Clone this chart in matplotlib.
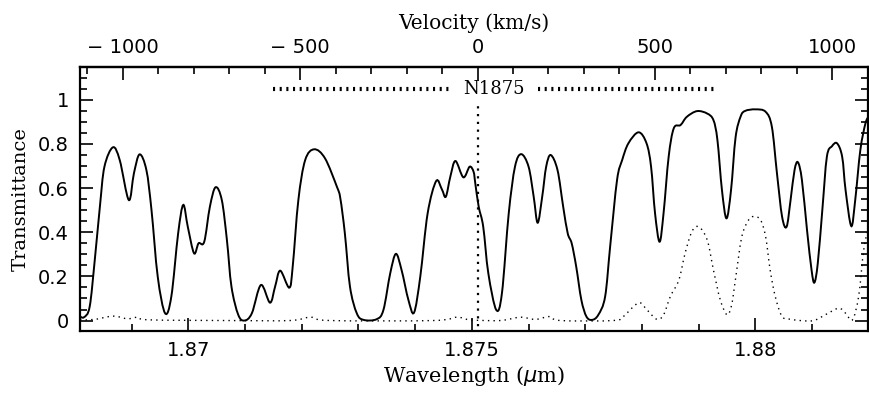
import matplotlib
matplotlib.use('Agg')
import matplotlib.pyplot as plt
import matplotlib.ticker as ticker
from matplotlib.path import Path
from matplotlib.patches import PathPatch
import numpy as np

C_KMS = 299792.458
LAM0 = 1.8751  # N1875 line centre (um)

# solid curve: atmospheric transmittance
wave = [1.86808, 1.86816, 1.86826, 1.86835, 1.86844, 1.86852, 1.86867, 1.86879,
        1.86895, 1.86904, 1.86914, 1.86926, 1.86935, 1.86946, 1.86959, 1.86970,
        1.86982, 1.86991, 1.86999, 1.87010, 1.87018, 1.87028, 1.87038, 1.87048,
        1.87059, 1.87068, 1.87076, 1.87088, 1.87099, 1.87112, 1.87128, 1.87144,
        1.87153, 1.87162, 1.87178, 1.87184, 1.87194, 1.87206, 1.87222, 1.87241,
        1.87262, 1.87268, 1.87276, 1.87285, 1.87297, 1.87309, 1.87332, 1.87344,
        1.87356, 1.87366, 1.87376, 1.87388, 1.87398, 1.87409, 1.87422, 1.87437,
        1.87447, 1.87454, 1.87462, 1.87471, 1.87485, 1.87496, 1.87503, 1.87506,
        1.87512, 1.87520, 1.87529, 1.87543, 1.87553, 1.87565, 1.87576, 1.87587,
        1.87600, 1.87609, 1.87616, 1.87624, 1.87631, 1.87639, 1.87651, 1.87661,
        1.87669, 1.87676, 1.87684, 1.87693, 1.87702, 1.87712, 1.87723, 1.87735,
        1.87744, 1.87756, 1.87765, 1.87776, 1.87794, 1.87808, 1.87816, 1.87823,
        1.87831, 1.87838, 1.87847, 1.87856, 1.87868, 1.87879, 1.87897, 1.87915,
        1.87926, 1.87933, 1.87941, 1.87949, 1.87957, 1.87965, 1.87974, 1.87982,
        1.88000, 1.88018, 1.88029, 1.88038, 1.88047, 1.88055, 1.88062, 1.88069,
        1.88075, 1.88082, 1.88091, 1.88099, 1.88104, 1.88110, 1.88118, 1.88126,
        1.88135, 1.88144, 1.88153, 1.88159, 1.88169, 1.88176, 1.88185, 1.88194,
        1.88200]
trans = [0.020, 0.015, 0.063, 0.275, 0.516, 0.697, 0.785, 0.727,
         0.546, 0.667, 0.753, 0.682, 0.501, 0.199, 0.033, 0.109,
         0.395, 0.524, 0.425, 0.305, 0.350, 0.357, 0.516, 0.604,
         0.546, 0.365, 0.154, 0.026, 0.000, 0.033, 0.161, 0.081,
         0.154, 0.226, 0.149, 0.244, 0.546, 0.727, 0.776, 0.735,
         0.606, 0.554, 0.395, 0.154, 0.033, 0.003, 0.006, 0.048,
         0.214, 0.302, 0.229, 0.094, 0.036, 0.199, 0.486, 0.632,
         0.595, 0.561, 0.652, 0.723, 0.649, 0.697, 0.674, 0.622,
         0.516, 0.425, 0.214, 0.048, 0.124, 0.486, 0.697, 0.754,
         0.697, 0.561, 0.443, 0.561, 0.697, 0.750, 0.682, 0.516,
         0.395, 0.350, 0.244, 0.094, 0.018, 0.003, 0.026, 0.109,
         0.340, 0.637, 0.727, 0.803, 0.853, 0.803, 0.697, 0.486,
         0.357, 0.486, 0.742, 0.871, 0.886, 0.923, 0.949, 0.938,
         0.908, 0.818, 0.591, 0.463, 0.591, 0.830, 0.925, 0.950,
         0.957, 0.946, 0.878, 0.667, 0.471, 0.425, 0.546, 0.682,
         0.717, 0.637, 0.410, 0.229, 0.172, 0.260, 0.501, 0.742,
         0.790, 0.803, 0.742, 0.591, 0.428, 0.546, 0.772, 0.893,
         0.926]

# dotted curve: filter profile
wave_f = [1.86809, 1.86835, 1.86867, 1.86893, 1.86911, 1.86932, 1.87073, 1.87179,
          1.87215, 1.87250, 1.87432, 1.87474, 1.87497, 1.87550, 1.87585, 1.87612,
          1.87637, 1.87656, 1.87749, 1.87767, 1.87782, 1.87796, 1.87809, 1.87826,
          1.87838, 1.87850, 1.87865, 1.87876, 1.87888, 1.87900, 1.87915, 1.87926,
          1.87938, 1.87950, 1.87958, 1.87965, 1.87976, 1.87988, 1.87997, 1.88009,
          1.88018, 1.88026, 1.88035, 1.88047, 1.88062, 1.88079, 1.88103, 1.88126,
          1.88147, 1.88159, 1.88171, 1.88182, 1.88191, 1.88200]
trans_f = [0.003, 0.005, 0.020, 0.008, 0.015, 0.003, 0.000, 0.000,
           0.015, 0.000, 0.000, 0.015, 0.003, 0.000, 0.015, 0.005,
           0.018, 0.000, 0.000, 0.018, 0.056, 0.081, 0.048, 0.006,
           0.026, 0.109, 0.184, 0.305, 0.403, 0.425, 0.365, 0.229,
           0.094, 0.026, 0.070, 0.190, 0.380, 0.456, 0.471, 0.456,
           0.380, 0.229, 0.109, 0.018, 0.006, 0.000, 0.000, 0.030,
           0.056, 0.033, 0.003, 0.109, 0.320, 0.430]

# line marker bars (wavelength ranges)
bar_left = [1.87149, 1.87467]
bar_right = [1.87617, 1.87928]
bar_y = 1.048
line_label = 'N1875'
vel_ticks = [-1000, -500, 0, 500, 1000]


def lam2vel(lam):
    return (np.asarray(lam) - LAM0) / LAM0 * C_KMS


def vel2lam(v):
    return LAM0 * (1 + np.asarray(v) / C_KMS)


def smooth_path(x, y):
    # Catmull-Rom through the read points, drawn as cubic Bezier segments
    p = np.column_stack([x, y])
    verts = [p[0]]
    codes = [Path.MOVETO]
    n = len(p)
    for i in range(n - 1):
        p0 = p[max(i - 1, 0)]
        p1 = p[i]
        p2 = p[i + 1]
        p3 = p[min(i + 2, n - 1)]
        verts += [p1 + (p2 - p0) / 6.0, p2 - (p3 - p1) / 6.0, p2]
        codes += [Path.CURVE4] * 3
    return Path(verts, codes)


plt.rcParams['font.family'] = 'DejaVu Sans'

fig = plt.figure(figsize=(8.7, 3.93), dpi=100)
ax = fig.add_axes([0.092, 0.158, 0.906, 0.671])

ax.add_patch(PathPatch(smooth_path(wave, trans), facecolor='none',
                       edgecolor='k', linewidth=1.4))
ax.add_patch(PathPatch(smooth_path(wave_f, trans_f), facecolor='none',
                       edgecolor='k', linestyle=(0, (1, 3)), linewidth=1.0))
ax.plot([LAM0, LAM0], [-0.06, 0.985], color='k', linestyle=(0, (1, 2.5)), linewidth=1.6)

for seg in (bar_left, bar_right):
    ax.plot(seg, [bar_y, bar_y], color='k', linewidth=3.0,
            linestyle=(0, (0.5, 1.1)), solid_capstyle='butt', dash_capstyle='butt')
ax.text(1.87539, bar_y, line_label, ha='center', va='center', fontsize=13,
        family='DejaVu Serif')

ax.set_xlim(1.86809, 1.88199)
ax.set_ylim(-0.047, 1.148)

ax.xaxis.set_major_locator(ticker.MultipleLocator(0.005))
ax.xaxis.set_minor_locator(ticker.MultipleLocator(0.001))
ax.yaxis.set_major_locator(ticker.MultipleLocator(0.2))
ax.yaxis.set_minor_locator(ticker.MultipleLocator(0.05))
ax.xaxis.set_major_formatter(ticker.FuncFormatter(lambda v, p: '%g' % round(v, 4)))
ax.yaxis.set_major_formatter(ticker.FuncFormatter(lambda v, p: '%g' % round(v, 2)))

ax.tick_params(which='both', direction='in', top=False, right=True, width=1.2,
               labelsize=14)
ax.tick_params(which='major', length=9.5)
ax.tick_params(which='minor', length=5)
ax.tick_params(axis='x', pad=7)
ax.tick_params(axis='y', pad=8)
for s in ax.spines.values():
    s.set_linewidth(1.6)

sec = ax.secondary_xaxis('top', functions=(lam2vel, vel2lam))
sec.xaxis.set_major_locator(ticker.FixedLocator(vel_ticks))
sec.xaxis.set_minor_locator(ticker.FixedLocator(list(range(-1100, 1101, 100))))
sec.xaxis.set_major_formatter(ticker.FuncFormatter(
    lambda v, p: ('%d' % v).replace('-', '\u2212 ')))
sec.tick_params(which='both', direction='in', width=1.2, labelsize=14, pad=7)
sec.tick_params(which='major', length=9.5)
sec.tick_params(which='minor', length=5)
sec.spines['top'].set_linewidth(1.6)
sec.set_xlabel('Velocity (km/s)', family='DejaVu Serif', fontsize=14.5, labelpad=7)

ax.set_xlabel(r'Wavelength ($\mu$m)', family='DejaVu Serif', fontsize=15, labelpad=3)
ax.set_ylabel('Transmittance', family='DejaVu Serif', fontsize=14, labelpad=6)

plt.savefig('out.png', dpi=100)
